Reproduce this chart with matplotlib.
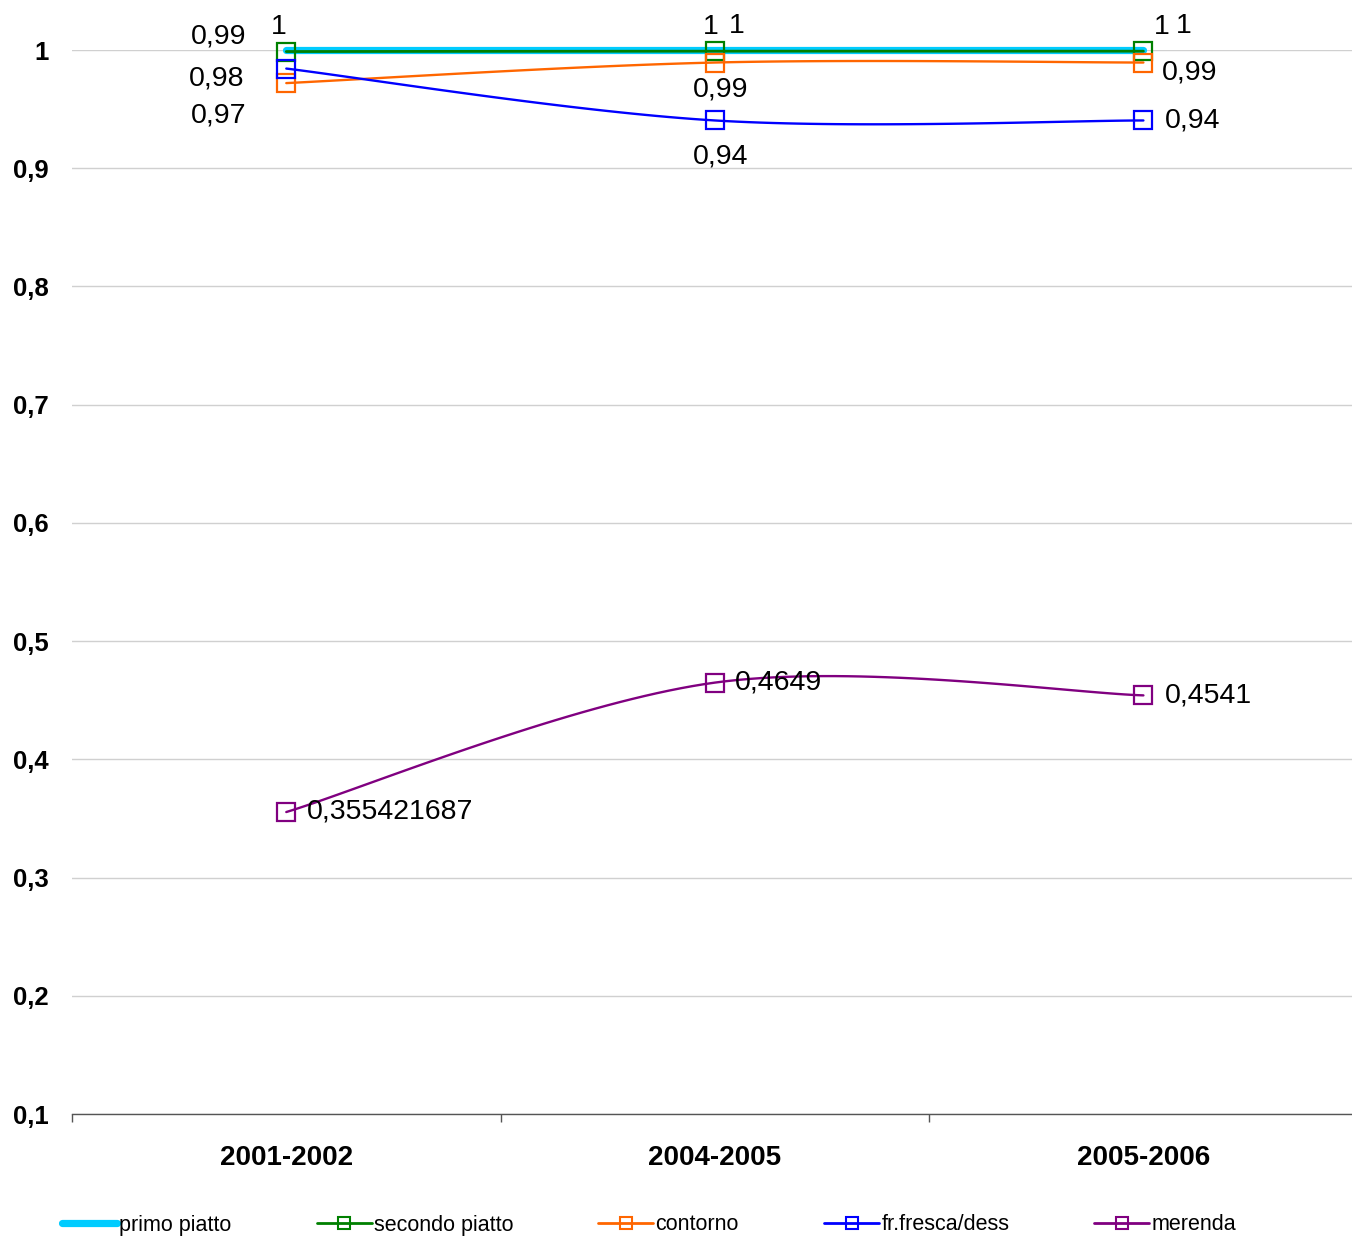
import matplotlib
matplotlib.use("Agg")
import matplotlib.pyplot as plt
from matplotlib.ticker import FixedLocator
import numpy as np

plt.rcParams["font.family"] = ["Liberation Sans", "DejaVu Sans"]

years = ["2001-2002", "2004-2005", "2005-2006"]

primo_piatto = [1.0, 1.0, 1.0]
secondo_piatto = [0.9987, 0.999, 0.999]
contorno = [0.972, 0.9894, 0.9894]
fr_fresca = [0.9843, 0.9404, 0.9404]
merenda = [0.355421687, 0.4649, 0.4541]

primo_labels = ["1", "1", "1"]
secondo_labels = ["0,99", "1", "1"]
contorno_labels = ["0,97", "0,99", "0,99"]
fr_fresca_labels = ["0,98", "0,94", "0,94"]
merenda_labels = ["0,355421687", "0,4649", "0,4541"]

y_ticks = [0.1, 0.2, 0.3, 0.4, 0.5, 0.6, 0.7, 0.8, 0.9, 1.0]
y_tick_labels = ["0,1", "0,2", "0,3", "0,4", "0,5", "0,6", "0,7", "0,8", "0,9", "1"]

# label placement: (dx px, dy px, ha) per point, dy positive = up
primo_pos = [(-8, 23, "center"), (-4, 23, "center"), (18, 23, "center")]
secondo_pos = [(-40, 15, "right"), (22, 25, "center"), (40, 25, "center")]
contorno_pos = [(-40, -32, "right"), (6, -27, "center"), (18, -10, "left")]
fr_fresca_pos = [(-42, -9.5, "right"), (6, -36, "center"), (21, 0, "left")]
merenda_pos = [(21, 1, "left"), (20, 0, "left"), (21, 0, "left")]


def smooth(xs, ys, n=40):
    # Excel-like smoothed line: cubic bezier with neighbour based handles
    pts = np.column_stack([xs, ys]).astype(float)
    ext = np.vstack([pts[0], pts, pts[-1]])
    out = []
    for i in range(len(pts) - 1):
        p0, p3 = ext[i + 1], ext[i + 2]
        c1 = p0 + (ext[i + 2] - ext[i]) / 6.0
        c2 = p3 - (ext[i + 3] - ext[i + 1]) / 6.0
        t = np.linspace(0, 1, n)[:, None]
        seg = ((1 - t) ** 3 * p0 + 3 * (1 - t) ** 2 * t * c1
               + 3 * (1 - t) * t ** 2 * c2 + t ** 3 * p3)
        out.append(seg if i == 0 else seg[1:])
    out = np.vstack(out)
    return out[:, 0], out[:, 1]


fig = plt.figure(figsize=(13.52, 12.37), dpi=100)
W, H = 1352, 1237
ax = fig.add_axes([72 / W, 1 - 1114 / H, 1285.7 / W, (1114 - 50) / H])

x = np.arange(len(years))

series = [
    ("primo piatto", primo_piatto, primo_labels, primo_pos, "#00CCFF", 5.2, None),
    ("secondo piatto", secondo_piatto, secondo_labels, secondo_pos, "#008000", 2.0, "s"),
    ("contorno", contorno, contorno_labels, contorno_pos, "#FF6600", 1.7, "s"),
    ("fr.fresca/dess", fr_fresca, fr_fresca_labels, fr_fresca_pos, "#0000FF", 1.7, "s"),
    ("merenda", merenda, merenda_labels, merenda_pos, "#800080", 1.7, "s"),
]

handles = []
for name, vals, labs, pos, color, lw, marker in series:
    sx, sy = smooth(x, vals)
    ax.plot(sx, sy, color=color, lw=lw, solid_capstyle="round", clip_on=False, zorder=3)
    if marker:
        ax.plot(x, vals, linestyle="none", marker=marker, markersize=13,
                markerfacecolor="none", markeredgecolor=color, markeredgewidth=1.6,
                clip_on=False, zorder=4)
    h, = ax.plot([], [], color=color, lw=lw if marker is None else 2.0,
                 marker=marker, markersize=9, markerfacecolor="none",
                 markeredgecolor=color, markeredgewidth=1.5,
                 solid_capstyle="round")
    handles.append(h)
    for xi, v, lab, (dx, dy, ha) in zip(x, vals, labs, pos):
        ax.annotate(lab, (xi, v), xytext=(dx * 0.72, dy * 0.72),
                    textcoords="offset points", ha=ha, va="center",
                    fontsize=20.5, color="black", annotation_clip=False, zorder=5)

ax.set_xlim(-0.5, 2.5)
ax.set_ylim(0.1, 1.0)
ax.set_yticks(y_ticks)
ax.set_yticklabels(y_tick_labels, fontsize=18.5, fontweight="bold")
ax.tick_params(axis="y", length=0, pad=17)
ax.set_xticks(x)
ax.set_xticklabels(years, fontsize=20, fontweight="bold")
ax.tick_params(axis="x", which="major", length=0, pad=22)
ax.xaxis.set_minor_locator(FixedLocator([-0.5, 0.5, 1.5]))
ax.tick_params(axis="x", which="minor", length=6, width=1, color="#555555", direction="out")

ax.grid(axis="y", color="#d0d0d0", lw=1)
ax.set_axisbelow(True)
for side in ["top", "right", "left"]:
    ax.spines[side].set_visible(False)
ax.spines["bottom"].set_color("#555555")
ax.spines["bottom"].set_linewidth(1)

fig.legend(handles, [s[0] for s in series], loc="center left",
           bbox_to_anchor=(62 / W, (H - 1225) / H), ncol=5, frameon=False,
           fontsize=15.5, handlelength=2.56, handletextpad=0.1, columnspacing=3.95,
           borderpad=0, borderaxespad=0)

fig.savefig("out.png", dpi=100)
